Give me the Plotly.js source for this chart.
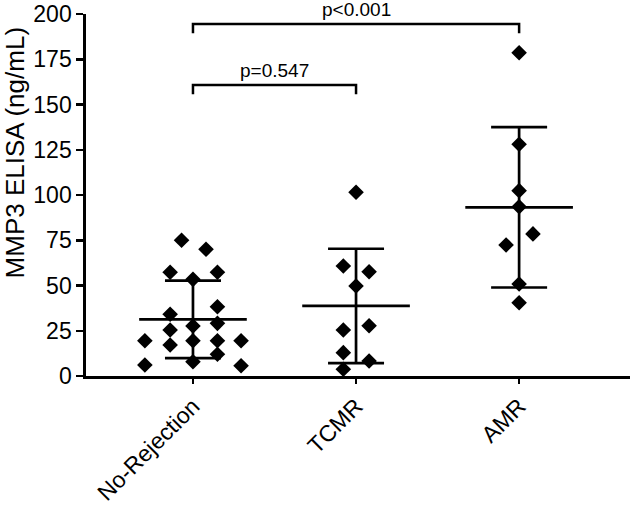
<!DOCTYPE html>
<html>
<head>
<meta charset="utf-8">
<script src="https://cdn.plot.ly/plotly-3.0.1.min.js"></script>
<style>html,body{margin:0;padding:0;background:#fff;}#chart{width:630px;height:505px;}</style>
</head>
<body>
<div id="chart"></div>
<script>
// Categories and tick labels
const categories = ["No-Rejection", "TCMR", "AMR"];
const yTitle = "MMP3 ELISA (ng/mL)";

// Individual MMP3 values (ng/mL)
const noRejectionValues = [75, 70, 57.3, 57.3, 53.4, 38.3, 34.1, 27.6, 29.1, 25.4, 19.5, 17.1, 19.5, 19.5, 19.5, 12, 7.9, 6.1, 5.7];
const noRejectionJitter = [-0.07, 0.08, -0.14, 0.15, 0, 0.15, -0.14, 0, 0.15, -0.14, -0.295, -0.14, 0, 0.15, 0.295, 0.15, 0, -0.295, 0.295];

const tcmrValues = [101.5, 60.8, 57.6, 49.7, 25.4, 27.8, 12.9, 8.3, 3.7];
const tcmrJitter = [0, -0.078, 0.08, 0, -0.078, 0.08, -0.078, 0.08, -0.078];

const amrValues = [178.6, 128, 102.4, 93.5, 78.5, 72.4, 50.8, 40.5];
const amrJitter = [0, 0, 0, 0, 0.085, -0.08, 0, 0];

// Group mean and SD
const groupMeans = [31.3, 38.7, 93.2];
const groupSD = [21.4, 31.6, 44.3];

// Significance brackets
const pLabels = ["p=0.547", "p<0.001"];
const bracketPairs = [[0, 1], [0, 2]];
const bracketLevels = [160.8, 194.5];

const FONT = "Liberation Sans, Arial, Helvetica, sans-serif";

const groups = [
  {vals: noRejectionValues, jit: noRejectionJitter},
  {vals: tcmrValues, jit: tcmrJitter},
  {vals: amrValues, jit: amrJitter}
];

const traces = [];
const px = [], py = [];
groups.forEach((g, i) => {
  g.vals.forEach((v, k) => { px.push(i + g.jit[k]); py.push(v); });
});
traces.push({
  type: "scatter", mode: "markers", x: px, y: py,
  marker: {symbol: "diamond", size: 12, color: "#000"},
  hoverinfo: "y", showlegend: false, cliponaxis: false
});

// Mean lines
const mx = [], my = [];
groupMeans.forEach((m, i) => { mx.push(i - 0.33, i + 0.33, null); my.push(m, m, null); });
traces.push({
  type: "scatter", mode: "lines", x: mx, y: my,
  line: {color: "#000", width: 2.7}, hoverinfo: "skip", showlegend: false
});

// SD error bars
traces.push({
  type: "scatter", mode: "markers", x: [0, 1, 2], y: groupMeans,
  marker: {size: 1, color: "rgba(0,0,0,0)"},
  error_y: {type: "data", array: groupSD, visible: true, color: "#000", thickness: 2.7, width: 28},
  hoverinfo: "skip", showlegend: false
});

const shapes = [];
const annotations = [];
bracketPairs.forEach((p, j) => {
  const y = bracketLevels[j];
  shapes.push({
    type: "path", xref: "x", yref: "y",
    path: `M ${p[0]} ${y - 5.2} L ${p[0]} ${y} L ${p[1]} ${y} L ${p[1]} ${y - 5.2}`,
    line: {color: "#000", width: 2.5}
  });
  annotations.push({
    x: (p[0] + p[1]) / 2, y: y, xref: "x", yref: "y",
    text: pLabels[j], showarrow: false, yanchor: "middle", yshift: 14,
    font: {family: FONT, size: 19, color: "#000"}
  });
});

// Y-axis title (placed as rotated text, as in the reference it sits above axis centre)
annotations.push({
  xref: "paper", yref: "paper", x: -0.1305, y: 0.615,
  xanchor: "center", yanchor: "middle", textangle: -90,
  text: yTitle, showarrow: false,
  font: {family: FONT, size: 26, color: "#000"}
});

const layout = {
  width: 630, height: 505,
  margin: {l: 86, r: 0, t: 14, b: 129},
  paper_bgcolor: "#fff", plot_bgcolor: "#fff",
  font: {family: FONT, color: "#000", size: 20},
  xaxis: {
    range: [-0.656, 2.68], tickvals: [0, 1, 2], ticktext: categories,
    tickangle: -45, ticks: "outside", ticklen: 5, tickwidth: 2.5, tickcolor: "#000",
    showline: true, linecolor: "#000", linewidth: 2.7, showgrid: false, zeroline: false,
    tickfont: {size: 23}
  },
  yaxis: {
    range: [0, 200], tickvals: [0, 25, 50, 75, 100, 125, 150, 175, 200],
    ticks: "outside", ticklen: 7, tickwidth: 2.5, tickcolor: "#000",
    showline: true, linecolor: "#000", linewidth: 2.7, showgrid: false, zeroline: false,
    tickfont: {size: 23}
  },
  shapes: shapes,
  annotations: annotations,
  showlegend: false
};

Plotly.newPlot("chart", traces, layout, {displayModeBar: false, staticPlot: true});
</script>
</body>
</html>
